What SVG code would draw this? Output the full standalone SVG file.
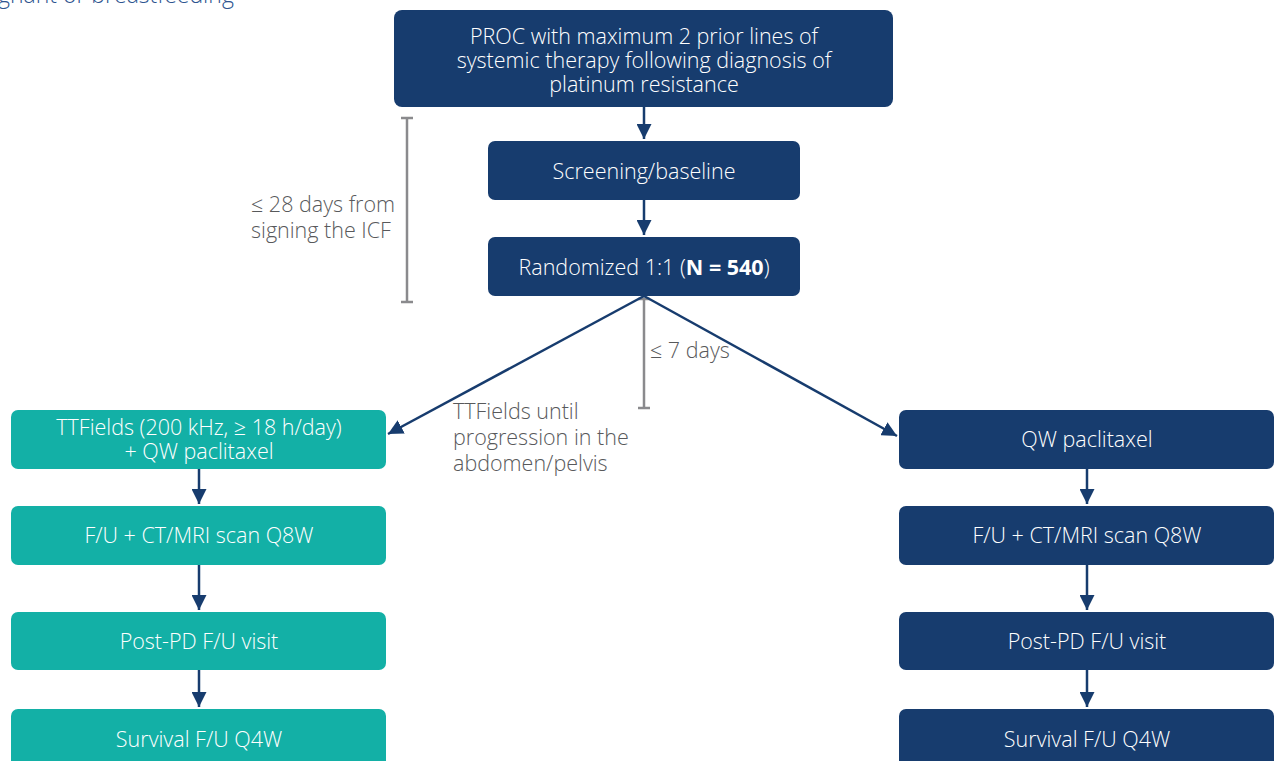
<svg xmlns="http://www.w3.org/2000/svg" width="1275" height="761" viewBox="0 0 1275 761">
<style>
.nav{fill:#173c6e}
.teal{fill:#13b0a6}
.bt{fill:#ffffff;font-family:"Open Sans",Lato,"Liberation Sans",sans-serif;font-weight:300;font-size:21.5px;text-anchor:middle}
.lt{fill:#58595b;font-family:"Open Sans",Lato,"Liberation Sans",sans-serif;font-weight:300;font-size:21.5px}
.con{stroke:#173c6e;stroke-width:2.5;fill:none}
.br{stroke:#8a8a8d;stroke-width:2.5;fill:none}
</style>
<defs>
<marker id="ah" viewBox="0 0 10 10" refX="10" refY="5" markerWidth="6" markerHeight="6" markerUnits="strokeWidth" orient="auto">
<path d="M0,0 L10,5 L0,10 z" fill="#173c6e"/>
</marker>
</defs>
<rect width="1275" height="761" fill="#ffffff"/>
<text x="-2" y="3" font-family="'Open Sans',Lato,'Liberation Sans',sans-serif" font-weight="300" font-size="23" fill="#2e5590">gnant or breastfeeding</text>

<g id="brackets">
<path class="br" d="M407,118 V302 M401,118 H413 M401,302 H413"/>
<path class="br" d="M644,299 V408 M638,299 H650 M638,408 H650"/>
</g>

<g id="connectors">
<line class="con" x1="644" y1="107" x2="644" y2="139" marker-end="url(#ah)"/>
<line class="con" x1="644" y1="200" x2="644" y2="235" marker-end="url(#ah)"/>
<line class="con" x1="644" y1="296" x2="388" y2="434" marker-end="url(#ah)"/>
<line class="con" x1="644" y1="296" x2="897" y2="436" marker-end="url(#ah)"/>
<line class="con" x1="199" y1="469" x2="199" y2="504" marker-end="url(#ah)"/>
<line class="con" x1="199" y1="565" x2="199" y2="610" marker-end="url(#ah)"/>
<line class="con" x1="199" y1="670" x2="199" y2="707" marker-end="url(#ah)"/>
<line class="con" x1="1087" y1="469" x2="1087" y2="504" marker-end="url(#ah)"/>
<line class="con" x1="1087" y1="565" x2="1087" y2="610" marker-end="url(#ah)"/>
<line class="con" x1="1087" y1="670" x2="1087" y2="707" marker-end="url(#ah)"/>
</g>

<g id="proc">
<rect class="nav" x="394" y="10" width="499" height="97" rx="8"/>
<text class="bt" x="644" y="43.5">PROC with maximum 2 prior lines of</text>
<text class="bt" x="644" y="67.5">systemic therapy following diagnosis of</text>
<text class="bt" x="644" y="91.5">platinum resistance</text>
</g>
<g id="screening">
<rect class="nav" x="488" y="141" width="312" height="59" rx="7"/>
<text class="bt" x="644" y="179">Screening/baseline</text>
</g>
<g id="randomized">
<rect class="nav" x="488" y="237" width="312" height="59" rx="7"/>
<text class="bt" x="644" y="275">Randomized 1:1 (<tspan font-weight="bold">N = 540</tspan>)</text>
</g>

<g id="label-28days">
<text class="lt" x="251" y="212">≤ 28 days from</text>
<text class="lt" x="251" y="238">signing the ICF</text>
</g>
<g id="label-7days">
<text class="lt" x="650" y="358">≤ 7 days</text>
</g>
<g id="label-ttfields">
<text class="lt" x="453" y="419">TTFields until</text>
<text class="lt" x="453" y="445">progression in the</text>
<text class="lt" x="453" y="471">abdomen/pelvis</text>
</g>

<g id="l1">
<rect class="teal" x="11" y="410" width="375" height="59" rx="7"/>
<text class="bt" x="199" y="434.5">TTFields (200 kHz, ≥ 18 h/day)</text>
<text class="bt" x="199" y="458.5">+ QW paclitaxel</text>
</g>
<g id="l2">
<rect class="teal" x="11" y="506" width="375" height="59" rx="7"/>
<text class="bt" x="199" y="543">F/U + CT/MRI scan Q8W</text>
</g>
<g id="l3">
<rect class="teal" x="11" y="612" width="375" height="58" rx="7"/>
<text class="bt" x="199" y="649">Post-PD F/U visit</text>
</g>
<g id="l4">
<rect class="teal" x="11" y="709" width="375" height="70" rx="7"/>
<text class="bt" x="199" y="747">Survival F/U Q4W</text>
</g>

<g id="r1">
<rect class="nav" x="899" y="410" width="375" height="59" rx="7"/>
<text class="bt" x="1087" y="447">QW paclitaxel</text>
</g>
<g id="r2">
<rect class="nav" x="899" y="506" width="375" height="59" rx="7"/>
<text class="bt" x="1087" y="543">F/U + CT/MRI scan Q8W</text>
</g>
<g id="r3">
<rect class="nav" x="899" y="612" width="375" height="58" rx="7"/>
<text class="bt" x="1087" y="649">Post-PD F/U visit</text>
</g>
<g id="r4">
<rect class="nav" x="899" y="709" width="375" height="70" rx="7"/>
<text class="bt" x="1087" y="747">Survival F/U Q4W</text>
</g>
</svg>
